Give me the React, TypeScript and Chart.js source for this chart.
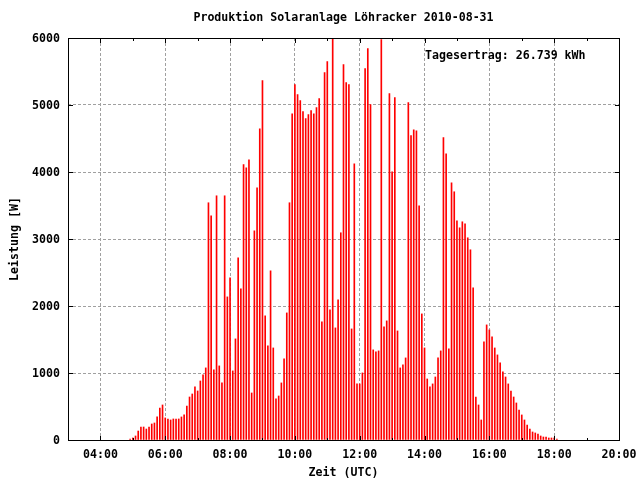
import React, { useEffect, useRef } from 'react';
import { Chart, registerables } from 'chart.js';

Chart.register(...registerables);

// ---- texts ----
const TITLE = 'Produktion Solaranlage Löhracker 2010-08-31';
const X_TITLE = 'Zeit (UTC)';
const Y_TITLE = 'Leistung [W]';
const YIELD_LABEL = 'Tagesertrag: 26.739 kWh';

// ---- axes (minutes since midnight, UTC) ----
const X_MIN = 180; // 03:00
const X_MAX = 1200; // 20:00
const X_STEP = 60;
const Y_MIN = 0;
const Y_MAX = 6000;
const Y_STEP = 1000;

// ---- samples: one every 5 minutes, first at 04:55 ----
const FIRST_SAMPLE_MIN = 295;
const SAMPLE_STEP_MIN = 5;

// power in W
const POWER_MORNING = [
  15, 30, 60, 134, 194, 194, 164, 194, 239, 254, 344, 478, 523, 329, 314, 299, 314, 314, 314, 344,
  374, 508, 642, 687, 792, 732, 881, 971, 1076, 3541, 3347, 1046, 3645, 1106, 852, 3645, 2136, 2420, 1031,
];
const POWER_LATE_MORNING = [
  1509, 2719, 2256, 4109, 4064, 4183, 702, 3122, 3765, 4646, 5363, 1853, 1404, 2525, 1374, 613, 657, 852, 1210, 1897,
  3541, 4870, 5304, 5154, 5065, 4900, 4796, 4856, 4915, 4870, 4960, 5095, 1763, 5483, 5647, 1942, 6000, 1673, 2092, 3093,
];
const POWER_MIDDAY = [
  5603, 5334, 5304, 1658, 4123, 837, 837, 1001, 5543, 5842, 5005, 1345, 1315, 1330, 5976, 1688, 1778, 5169, 4004, 5109,
  1628, 1076, 1121, 1225, 5035, 4542, 4631, 4616, 3496, 1882, 1374, 911, 792, 837, 941, 1225, 1330, 4512, 4273, 1360,
];
const POWER_AFTERNOON = [
  3840, 3705, 3272, 3167, 3257, 3227, 3018, 2839, 2271, 642, 523, 299, 1464, 1718, 1643, 1539, 1374, 1270, 1150, 1016,
  941, 837, 732, 642, 553, 448, 374, 299, 224, 164, 120, 105, 90, 60, 45, 45, 30, 30, 30, 15,
];
const POWER_W = [...POWER_MORNING, ...POWER_LATE_MORNING, ...POWER_MIDDAY, ...POWER_AFTERNOON];

// ---- styles ----
const FONT_FAMILY = '"DejaVu Sans Mono", "Liberation Mono", monospace';
const FONT_SIZE = 11.6;
const FONT_CSS = `bold ${FONT_SIZE}px ${FONT_FAMILY}`;
const BAR_COLOR = '#ff0000';
const GRID_COLOR = '#a0a0a0';

const fmtTime = (m: number) => {
  const h = Math.floor(m / 60);
  const mm = m % 60;
  return `${String(h).padStart(2, '0')}:${String(mm).padStart(2, '0')}`;
};

const framePlugin = {
  id: 'gnuFrame',
  afterDraw(chart: any) {
    const { ctx, chartArea: a, scales } = chart;
    const xs = scales.x;
    const ys = scales.y;
    const L = Math.round(a.left);
    const R = Math.round(a.right);
    const T = Math.round(a.top);
    const B = Math.round(a.bottom);
    ctx.save();
    ctx.strokeStyle = '#000';
    ctx.lineWidth = 1;
    ctx.setLineDash([]);
    ctx.strokeRect(L + 0.5, T + 0.5, R - L, B - T);
    ctx.beginPath();
    for (let m = X_MIN; m <= X_MAX; m += X_STEP) {
      const x = Math.round(xs.getPixelForValue(m)) + 0.5;
      const len = m % 120 === 0 ? 4 : 2;
      ctx.moveTo(x, B);
      ctx.lineTo(x, B - len);
      ctx.moveTo(x, T + 1);
      ctx.lineTo(x, T + 1 + len);
    }
    for (let v = Y_MIN; v <= Y_MAX; v += Y_STEP) {
      const y = Math.round(ys.getPixelForValue(v)) + 0.5;
      ctx.moveTo(L + 1, y);
      ctx.lineTo(L + 1 + 4, y);
      ctx.moveTo(R, y);
      ctx.lineTo(R - 4, y);
    }
    ctx.stroke();

    ctx.fillStyle = '#000';
    ctx.font = FONT_CSS;
    ctx.textBaseline = 'middle';
    ctx.textAlign = 'center';
    ctx.fillText(TITLE, (a.left + a.right) / 2, 18);
    ctx.textAlign = 'left';
    ctx.fillText(YIELD_LABEL, 425, 56);
    ctx.restore();
  },
};

export default function App() {
  const canvasRef = useRef<HTMLCanvasElement | null>(null);

  useEffect(() => {
    const canvas = canvasRef.current;
    if (!canvas) return;
    const data = POWER_W.map((w, i) => ({ x: FIRST_SAMPLE_MIN + i * SAMPLE_STEP_MIN, y: w }));
    const font = { family: FONT_FAMILY, size: FONT_SIZE, weight: 'bold' as const };

    const chart = new Chart(canvas, {
      type: 'bar',
      data: {
        datasets: [
          {
            data,
            backgroundColor: BAR_COLOR,
            borderWidth: 0,
            barThickness: 1,
          },
        ],
      },
      plugins: [framePlugin],
      options: {
        animation: false,
        responsive: false,
        events: [],
        layout: { padding: { top: 38, right: 21, left: 0, bottom: 0 } },
        plugins: {
          legend: { display: false },
          title: { display: false },
          tooltip: { enabled: false },
        },
        scales: {
          x: {
            type: 'linear',
            min: X_MIN,
            max: X_MAX,
            offset: false,
            afterFit: (s: any) => {
              s.height = 40;
              s.paddingLeft = 0;
              s.paddingRight = 0;
            },
            border: { display: false, dash: [3, 2] },
            grid: {
              offset: false,
              drawTicks: false,
              lineWidth: 1,
              color: (c: any) => {
                const v = c.tick?.value;
                return v % 120 === 0 && v > X_MIN && v < X_MAX ? GRID_COLOR : 'rgba(0,0,0,0)';
              },
            },
            ticks: {
              stepSize: X_STEP,
              autoSkip: false,
              maxRotation: 0,
              padding: 8,
              color: '#000',
              font,
              callback: (v: any) => (Number(v) % 120 === 0 ? fmtTime(Number(v)) : ''),
            },
            title: {
              display: true,
              text: X_TITLE,
              color: '#000',
              font,
              padding: { top: 0, bottom: 0 },
            },
          },
          y: {
            min: Y_MIN,
            max: Y_MAX,
            afterFit: (s: any) => {
              s.width = 68;
              s.paddingTop = 0;
              s.paddingBottom = 0;
            },
            border: { display: false, dash: [3, 2] },
            grid: {
              drawTicks: false,
              lineWidth: 1,
              color: (c: any) => {
                const v = c.tick?.value;
                return v > Y_MIN && v < Y_MAX ? GRID_COLOR : 'rgba(0,0,0,0)';
              },
            },
            ticks: {
              stepSize: Y_STEP,
              padding: 8,
              labelOffset: 1,
              color: '#000',
              font,
              callback: (v: any) => String(v),
            },
            title: {
              display: true,
              text: Y_TITLE,
              color: '#000',
              font,
              padding: { top: 8, bottom: 0 },
            },
          },
        },
      },
    });
    return () => chart.destroy();
  }, []);

  return (
    <div style={{ position: 'absolute', left: 0, top: 0, width: 640, height: 480, background: '#fff' }}>
      <canvas ref={canvasRef} width={640} height={480} />
    </div>
  );
}
